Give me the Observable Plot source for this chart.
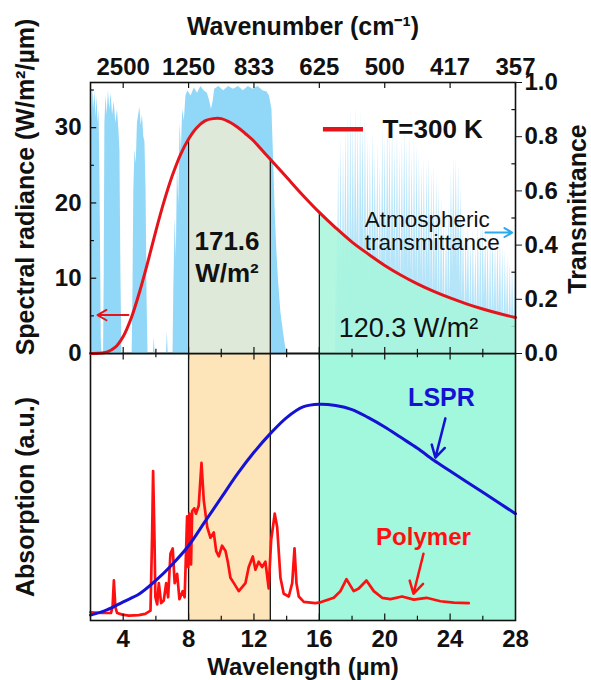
<!DOCTYPE html>
<html><head><meta charset="utf-8">
<script src="https://cdn.jsdelivr.net/npm/d3@7"></script>
<script src="https://cdn.jsdelivr.net/npm/@observablehq/plot@0.6"></script>
<style>
body{margin:0;background:#fff;}
#chart{position:relative;width:591px;height:680px;overflow:hidden;background:#fff;}
#chart svg{position:absolute;left:0;top:0;}
</style></head><body><div id="chart"></div>
<script>
// ---------- data ----------
// Blackbody spectral radiance, T = 300 K (W/m²/µm)
const radWl  = [2, 2.5, 3, 3.5, 4, 4.5, 5, 5.5, 6, 6.5, 7, 7.5, 8, 8.5, 9, 9.5, 10, 10.5, 11, 11.5, 12, 12.5, 13, 14, 15, 16, 17, 18, 19, 20, 21, 22, 23, 24, 25, 26, 27, 28];
const radVal = [0, 0.02, 0.18, 0.8, 2.27, 4.76, 8.17, 12.1, 16.3, 20.2, 23.6, 26.4, 28.5, 30.0, 30.9, 31.2, 31.2, 30.75, 30.06, 29.16, 28.2, 27.0, 25.8, 23.4, 21.0, 18.75, 16.7, 14.8, 13.2, 11.7, 10.4, 9.25, 8.25, 7.38, 6.6, 5.91, 5.31, 4.78];

// Atmospheric transmittance (0–1)
const transWl = [2.0,2.05,2.1,2.16,2.22,2.28,2.34,2.4,2.46,2.52,2.57,2.62,2.66,2.7,2.8,2.84,2.88,2.95,3.02,3.1,3.18,3.26,3.35,3.45,3.55,3.65,3.74,3.8,3.86,3.92,
 4.55,4.6,4.65,4.72,4.8,4.87,4.95,5.02,5.1,5.18,5.26,5.33,5.4,5.46,5.52,5.85,5.9,5.95,6.65,6.7,6.75,7.05,7.1,7.18,7.25,7.32,7.4,7.48,7.56,7.64,7.74,7.84,7.95,
 8.15,8.35,8.55,8.75,8.95,9.15,9.3,9.4,9.5,9.6,9.85,10.15,10.45,10.75,11.05,11.35,11.65,11.95,12.25,12.55,12.8,12.95,13.1,13.2,13.3,13.4,13.5,13.65,13.8,13.92,14.02,
 17.0,17.05,17.1,17.18,17.25,17.32,17.4,17.48,17.55,17.62,17.7,17.78,17.85,17.92,18.0,18.08,18.15,18.22,18.3,18.38,18.45,18.52,18.6,18.68,18.75,18.82,18.9,
 18.98,19.05,19.12,19.2,19.28,19.35,19.42,19.5,19.58,19.65,19.72,19.8,19.88,19.95,20.02,20.1,20.18,20.25,20.32,20.4,20.48,20.55,20.62,20.7,20.78,20.85,20.92,21.0,
 21.08,21.15,21.22,21.3,21.38,21.45,21.52,21.6,21.68,21.75,21.82,21.9,21.98,22.05,22.12,22.2,22.28,22.35,22.42,22.5,22.58,22.65,22.72,22.8,22.88,22.95,23.02,23.1,23.18,23.25,23.32,23.4,
 23.48,23.55,23.62,23.7,23.78,23.85,23.92,24.0,24.08,24.15,24.22,24.3,24.38,24.45,24.52,24.6,24.68,24.75,24.82,24.9,24.98,25.05,25.12,25.2,25.28,25.35,25.42,25.5,25.58,25.65,
 25.72,25.8,25.88,25.95,26.02,26.1,26.18,26.25,26.32,26.4,26.48,26.55,26.62,26.7,26.78,26.85,26.92,27.0,27.08,27.15,27.22,27.3,27.38,27.45,27.52,27.6,27.68,27.75,27.82,27.9,27.96,28.0];
const transVal = [0.92,0.97,0.86,0.98,0.9,0.97,0.87,0.95,0.85,0.9,0.7,0.35,0.05,0,0,0.3,0.85,0.95,0.88,0.97,0.9,0.96,0.88,0.93,0.85,0.9,0.82,0.75,0.3,0,
 0,0.25,0.6,0.75,0.7,0.85,0.88,0.91,0.84,0.88,0.8,0.78,0.6,0.2,0,0,0.06,0,0,0.08,0,0,0.25,0.5,0.35,0.7,0.55,0.85,0.75,0.9,0.86,0.95,0.97,
 0.95,0.98,0.96,0.985,0.97,0.96,0.93,0.9,0.93,0.975,0.985,0.97,0.985,0.975,0.985,0.97,0.985,0.975,0.985,0.97,0.965,0.95,0.9,0.72,0.52,0.38,0.27,0.15,0.08,0.03,0,
 0,0.45,0.12,0.72,0.2,0.8,0.25,0.76,0.3,0.83,0.35,0.88,0.3,0.9,0.4,0.86,0.35,0.91,0.4,0.87,0.3,0.9,0.45,0.85,0.35,0.88,0.3,
 0.8,0.25,0.77,0.3,0.82,0.35,0.75,0.3,0.78,0.25,0.7,0.3,0.84,0.35,0.8,0.3,0.86,0.4,0.82,0.3,0.85,0.35,0.78,0.3,0.83,0.3,0.76,0.25,
 0.8,0.3,0.84,0.35,0.78,0.3,0.82,0.3,0.75,0.25,0.8,0.3,0.77,0.25,0.74,0.3,0.7,0.25,0.72,0.25,0.7,0.3,0.72,0.25,0.68,0.2,0.7,0.25,0.66,0.2,0.62,0.2,
 0.58,0.2,0.52,0.15,0.5,0.2,0.55,0.2,0.68,0.3,0.73,0.35,0.72,0.3,0.7,0.25,0.62,0.2,0.5,0.15,0.45,0.2,0.48,0.15,0.42,0.15,0.46,0.15,0.4,0.12,
 0.5,0.15,0.48,0.15,0.5,0.2,0.46,0.15,0.45,0.12,0.44,0.12,0.46,0.15,0.42,0.12,0.45,0.15,0.43,0.12,0.4,0.1,0.38,0.12,0.36,0.1,0.34,0.1,0.32,0.1,0.3,0.1];

// LSPR absorption (a.u.)
const lsprWl  = [2,3,4,5,6,7,8,9,10,11,12,13,14,15,16,17,18,19,20,21,22,23,24,25,26,27,28];
const lsprVal = [0.02,0.04,0.07,0.10,0.15,0.21,0.28,0.37,0.46,0.55,0.63,0.70,0.76,0.80,0.81,0.805,0.79,0.76,0.725,0.685,0.645,0.60,0.56,0.52,0.48,0.44,0.40];

// Polymer absorption (a.u.)
const polyWl  = [2.0,2.7,3.25,3.35,3.43,3.52,3.63,3.95,4.35,4.95,5.35,5.67,5.77,5.83,5.91,5.97,6.08,6.18,6.32,6.48,6.63,6.75,6.89,7.03,7.15,7.3,7.44,7.64,7.76,7.91,7.98,8.05,8.15,8.22,8.35,8.45,8.62,8.79,8.93,9.14,9.34,9.54,9.69,9.85,10.05,10.26,10.4,10.56,10.77,11.07,11.48,11.68,11.93,12.09,12.29,12.5,12.7,12.9,13.05,13.27,13.42,13.62,13.82,14.13,14.34,14.48,14.6,14.74,15.05,15.76,16.07,16.88,17.29,17.66,18.1,18.41,18.88,19.33,19.84,20.35,21.06,21.78,22.55,23.41,24.22,25.14];
const polyVal = [0.031,0.028,0.028,0.05,0.15,0.05,0.028,0.022,0.018,0.02,0.025,0.037,0.32,0.56,0.32,0.087,0.06,0.14,0.065,0.075,0.14,0.087,0.25,0.27,0.14,0.175,0.08,0.11,0.087,0.39,0.2,0.4,0.21,0.41,0.42,0.4,0.43,0.59,0.45,0.35,0.31,0.33,0.26,0.24,0.28,0.26,0.22,0.16,0.14,0.11,0.14,0.2,0.24,0.19,0.22,0.2,0.22,0.12,0.3,0.40,0.35,0.16,0.10,0.09,0.14,0.27,0.14,0.09,0.07,0.065,0.068,0.085,0.11,0.155,0.11,0.12,0.15,0.11,0.085,0.08,0.09,0.078,0.085,0.072,0.067,0.065];

// bands and ticks
const bandFrom = [8, 16];
const bandTo = [13, 28];
const bandEdges = [8, 13, 16];
const xMajor = [4, 8, 12, 16, 20, 24, 28];
const xMinor = [4, 6, 8, 10, 12, 14, 16, 18, 20, 22, 24, 26];
const wavenumberLabels = ["2500", "1250", "833", "625", "500", "417", "357"];
const radTicks = [0, 10, 20, 30];
const radMinor = [5, 10, 15, 20, 25, 30, 35];
const transTicks = [0, 0.2, 0.4, 0.6, 0.8, 1.0];
const transTickLabels = ["0.0", "0.2", "0.4", "0.6", "0.8", "1.0"];
const transMinor = [0.1, 0.3, 0.5, 0.7, 0.9];

// ---------- layout ----------
const W = 591, H = 680, ML = 90, MR = 76, TOP = 82, MID = 353, BOT = 620;
const font = "'Liberation Sans', Arial, Helvetica, sans-serif";
const RED = "#e5141b", BLUE = "#1612d4", INK = "#111";
const style = {fontFamily: font, fontSize: "24px", fontWeight: "bold", background: "transparent", overflow: "visible", color: INK};

const rad = radWl.map((w, i) => ({w, v: radVal[i]}));
const radAt = w => radVal[radWl.indexOf(w)];
const trans = transWl.map((w, i) => ({w, t: transVal[i]}));
const lspr = lsprWl.map((w, i) => ({w, v: lsprVal[i]}));
const poly = polyWl.map((w, i) => ({w, v: polyVal[i]}));
const bands = bandFrom.map((f, i) => ({from: f, to: bandTo[i]}));

// bottom panel
const svgC = Plot.plot({
  width: W, height: H, marginLeft: ML, marginRight: MR, marginTop: MID, marginBottom: H - BOT,
  x: {domain: [2, 28]}, y: {domain: [0, 1], axis: null}, style,
  marks: [
    Plot.rect([bands[0]], {x1: "from", x2: "to", y1: 0, y2: 1, fill: "#fde5b9"}),
    Plot.rect([bands[1]], {x1: "from", x2: "to", y1: 0, y2: 1, fill: "#a2f8dc"}),
    Plot.ruleX(bandEdges, {x: d => d, y1: 0, y2: 1, stroke: INK, strokeWidth: 1.3}),
    Plot.line(poly, {x: "w", y: "v", stroke: "#ff1010", strokeWidth: 2.7}),
    Plot.line(lspr, {x: "w", y: "v", stroke: BLUE, strokeWidth: 3, curve: "catmull-rom"}),
    Plot.ruleX(xMinor, {x: d => d, y1: 0, y2: d => d % 4 === 0 ? 0.024 : 0.016, stroke: INK, strokeWidth: 1.2}),
    Plot.ruleX(xMinor, {x: d => d, y1: d => d % 4 === 0 ? 0.976 : 0.984, y2: 1, stroke: INK, strokeWidth: 1.2}),
    Plot.frame({stroke: INK, strokeWidth: 1.6}),
    Plot.axisX(xMajor, {anchor: "bottom", label: null, tickSize: 0, tickPadding: 9, fontSize: 24}),
    Plot.text(["Wavelength (µm)"], {frameAnchor: "bottom", dy: 47, fontSize: 24, fontWeight: "bold", textAnchor: "middle", lineAnchor: "middle", fill: INK}),
    Plot.text(["Absorption (a.u.)"], {frameAnchor: "left", dx: -65, dy: 10, rotate: -90, fontSize: 25, fontWeight: "bold", textAnchor: "middle", lineAnchor: "middle", fill: INK}),
    Plot.text(["LSPR"], {x: 23.47, y: 0.835, fontSize: 25, fontWeight: "bold", fill: BLUE}),
    Plot.arrow([0], {x1: 23.71, y1: 0.757, x2: 23.1, y2: 0.61, stroke: BLUE, strokeWidth: 2.5, headLength: 10}),
    Plot.text(["Polymer"], {x: 22.37, y: 0.31, fontSize: 24, fontWeight: "bold", fill: "#ff1010"}),
    Plot.arrow([0], {x1: 22.37, y1: 0.25, x2: 21.76, y2: 0.1, stroke: "#ff1010", strokeWidth: 2.5, headLength: 10})
  ]
});

// top panel: transmittance (right axis)
const svgA = Plot.plot({
  width: W, height: H, marginLeft: ML, marginRight: MR, marginTop: TOP, marginBottom: H - MID,
  x: {domain: [2, 28], axis: null}, y: {domain: [0, 1]}, style,
  marks: [
    Plot.areaY(trans.filter(d => d.w <= 14.1), {x: "w", y: "t", fill: "#7ed0f6", fillOpacity: 0.85}),
    Plot.areaY(trans.filter(d => d.w >= 16.9), {x: "w", y: "t", fill: "#86d3f6", fillOpacity: 0.6}),
    Plot.axisY(transTicks, {anchor: "right", label: null, tickSize: 6, tickPadding: 3, fontSize: 24, tickFormat: d => transTickLabels[transTicks.indexOf(d)]}),
    Plot.ruleY(transMinor, {y: d => d, x1: 27.78, x2: 28, stroke: INK, strokeWidth: 1.2}),
    Plot.text(["Transmittance"], {frameAnchor: "right", dx: 62, dy: -9, rotate: -90, fontSize: 25, fontWeight: "bold", textAnchor: "middle", lineAnchor: "middle", fill: INK})
  ]
});

// top panel: radiance
const svgB = Plot.plot({
  width: W, height: H, marginLeft: ML, marginRight: MR, marginTop: TOP, marginBottom: H - MID,
  x: {domain: [2, 28]}, y: {domain: [0, 36]}, style,
  marks: [
    Plot.areaY(rad.filter(d => d.w >= bands[0].from && d.w <= bands[0].to), {x: "w", y: "v", fill: "#fdf0cf", fillOpacity: 0.72, curve: "catmull-rom"}),
    Plot.areaY(rad.filter(d => d.w >= bands[1].from && d.w <= bands[1].to), {x: "w", y: "v", fill: "#a6f6dc", fillOpacity: 0.86, curve: "catmull-rom"}),
    Plot.ruleX(bandEdges, {x: d => d, y1: 0, y2: d => radAt(d), stroke: INK, strokeWidth: 1.2}),
    Plot.line(rad, {x: "w", y: "v", stroke: RED, strokeWidth: 3, curve: "catmull-rom"}),
    Plot.ruleY(radMinor, {y: d => d, x1: 2, x2: d => d % 10 === 0 ? 2.38 : 2.24, stroke: INK, strokeWidth: 1.2}),
    Plot.ruleX(xMajor, {x: d => d, y1: 35.2, y2: 36, stroke: INK, strokeWidth: 1.2}),
    Plot.ruleX(xMinor, {x: d => d, y1: 0, y2: d => d % 4 === 0 ? 0.8 : 0.55, stroke: INK, strokeWidth: 1.2}),
    Plot.frame({stroke: INK, strokeWidth: 1.6}),
    Plot.axisY(radTicks, {anchor: "left", label: null, tickSize: 0, tickPadding: 9, fontSize: 24}),
    Plot.axisX(xMajor, {anchor: "top", label: null, tickSize: 0, tickPadding: 8, fontSize: 24, tickFormat: d => wavenumberLabels[xMajor.indexOf(d)]}),
    Plot.text(["Wavenumber (cm⁻¹)"], {frameAnchor: "top", dy: -56, fontSize: 25, fontWeight: "bold", textAnchor: "middle", lineAnchor: "middle", fill: INK}),
    Plot.text(["Spectral radiance (W/m²/µm)"], {frameAnchor: "left", dx: -65, dy: -31, rotate: -90, fontSize: 25, fontWeight: "bold", textAnchor: "middle", lineAnchor: "middle", fill: INK}),
    Plot.ruleY([29.8], {x1: 16.25, x2: 18.7, stroke: RED, strokeWidth: 4.5}),
    Plot.text(["T=300 K"], {x: 19.86, y: 29.8, textAnchor: "start", fontSize: 26, fontWeight: "bold", fill: INK}),
    Plot.text(["171.6\nW/m²"], {x: 10.35, y: 13.0, fontSize: 26, fontWeight: "bold", lineHeight: 1.23, fill: INK}),
    Plot.text(["120.3 W/m²"], {x: 21.45, y: 3.3, fontSize: 27, fontWeight: "normal", fill: INK}),
    Plot.text(["Atmospheric\ntransmittance"], {x: 18.78, y: 16.26, textAnchor: "start", fontSize: 22.5, fontWeight: "normal", lineHeight: 1.05, fill: INK}),
    Plot.arrow([0], {x1: 26.16, y1: 16.07, x2: 27.8, y2: 16.07, stroke: "#29a9ef", strokeWidth: 2, headLength: 7}),
    Plot.arrow([0], {x1: 4.32, y1: 5.1, x2: 2.43, y2: 5.1, stroke: RED, strokeWidth: 2, headLength: 8})
  ]
});

const chart = document.getElementById("chart");
chart.append(svgC, svgA, svgB);
</script>
</body></html>
